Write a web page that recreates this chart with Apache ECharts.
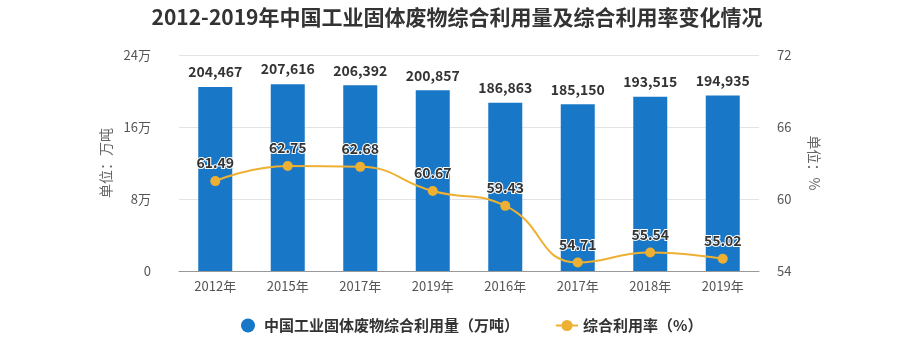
<!DOCTYPE html>
<html><head><meta charset="utf-8">
<script src="https://cdn.jsdelivr.net/npm/echarts@6/dist/echarts.min.js"></script>
<style>html,body{margin:0;padding:0;background:#fff}#c{width:914px;height:342px}</style>
</head><body><div id="c"></div>
<script>
const categories = ['2012年','2015年','2017年','2019年','2016年','2017年','2018年','2019年'];
const amountValues = [204467, 207616, 206392, 200857, 186863, 185150, 193515, 194935];
const rateValues = [61.49, 62.75, 62.68, 60.67, 59.43, 54.71, 55.54, 55.02];
const seriesNames = ['中国工业固体废物综合利用量（万吨）', '综合利用率（%）'];
const titleText = '2012-2019年中国工业固体废物综合利用量及综合利用率变化情况';

const chart = echarts.init(document.getElementById('c'));
const font = '"Noto Sans CJK SC", "Microsoft YaHei", sans-serif';
chart.setOption({
  animation: false,
  textStyle: {fontFamily: font},
  title: {text: titleText, left: 'center', top: 2,
    textStyle: {fontSize: 21, fontWeight: 'bold', color: '#333', fontFamily: font}},
  grid: {left: 179, right: 155, top: 55, bottom: 71},
  legend: {bottom: 4, left: 236, itemGap: 36, itemWidth: 22, itemHeight: 14,
    textStyle: {fontSize: 15, fontWeight: 'bold', color: '#333'},
    data: [{name: seriesNames[0], icon: 'circle'}, {name: seriesNames[1]}]},
  xAxis: {type: 'category', data: categories,
    axisLine: {lineStyle: {color: '#999'}},
    axisTick: {alignWithLabel: true, lineStyle: {color: '#999'}},
    axisLabel: {color: '#555', fontSize: 13, margin: 9}},
  yAxis: [{type: 'value', min: 0, max: 240000, interval: 80000,
      name: '单位：万吨', nameLocation: 'middle', nameGap: 66, nameRotate: 90,
      nameTextStyle: {color: '#666', fontSize: 14},
      axisLine: {show: false}, axisTick: {show: false},
      axisLabel: {color: '#555', fontSize: 13, margin: 28,
        formatter: v => v === 0 ? '0' : (v / 10000) + '万'},
      splitLine: {lineStyle: {color: '#e3e3e3'}}},
    {type: 'value', min: 54, max: 72, interval: 6,
      name: '单位：%', nameLocation: 'middle', nameGap: 48, nameRotate: -90,
      nameTextStyle: {color: '#666', fontSize: 14},
      axisLine: {show: false}, axisTick: {show: false},
      axisLabel: {color: '#555', fontSize: 13, margin: 18},
      splitLine: {show: false}}],
  series: [{name: seriesNames[0], type: 'bar', data: amountValues, barWidth: 34,
      itemStyle: {color: '#1878c7'},
      label: {show: true, position: 'top', fontWeight: 'bold', fontSize: 14, color: '#333', distance: 8,
        formatter: p => p.value.toLocaleString('en-US')}},
    {name: seriesNames[1], type: 'line', yAxisIndex: 1, data: rateValues, smooth: true,
      symbol: 'circle', symbolSize: 10,
      lineStyle: {color: '#eeb032', width: 2}, itemStyle: {color: '#eeb032'},
      label: {show: true, position: 'top', fontWeight: 'bold', fontSize: 14, color: '#333', distance: 6,
        textBorderColor: '#fff', textBorderWidth: 2}}]
});
</script></body></html>
